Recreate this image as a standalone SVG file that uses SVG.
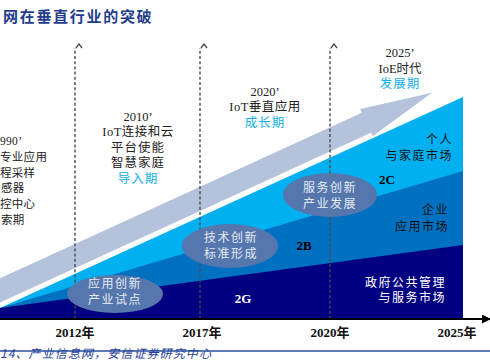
<svg xmlns="http://www.w3.org/2000/svg" width="490" height="364" viewBox="0 0 490 364">
<defs>
<style>
.t{font-family:"Liberation Serif","Noto Sans CJK SC",serif;font-size:12.5px;fill:#222;text-anchor:middle}
.c{fill:#10aeea}
.e9{font-family:"Liberation Serif","Noto Sans CJK SC",serif;font-size:11.5px;fill:#222;letter-spacing:0.3px}
.lab{font-family:"Liberation Serif","Noto Sans CJK SC",serif;font-size:12px;letter-spacing:1.5px;text-anchor:end}
.ell{fill:#5677ad}
.et{font-family:"Noto Sans CJK SC",sans-serif;font-size:12px;letter-spacing:1.5px;fill:#e4eaf4;text-anchor:middle}
.yr{font-family:"Liberation Serif","Noto Sans CJK SC",serif;font-size:13px;font-weight:bold;fill:#111;text-anchor:middle}
.g{font-family:"Liberation Serif",serif;font-size:13px;font-weight:bold;text-anchor:middle}
.dash{stroke:#4a4a4a;stroke-width:1.4;stroke-dasharray:3 2.2;fill:none}
</style>
<marker id="chev" viewBox="0 0 10 10" refX="5" refY="1" markerWidth="10" markerHeight="10" markerUnits="userSpaceOnUse" orient="auto">
<path d="M2,5 L5,1 L8,5" fill="none" stroke="#4a4a4a" stroke-width="1.3" transform="rotate(90 5 5)"/>
</marker>
<marker id="ax" viewBox="0 0 10 10" refX="9" refY="5" markerWidth="9" markerHeight="9" markerUnits="userSpaceOnUse" orient="auto">
<path d="M0,0 L10,5 L0,10 Z" fill="#000"/>
</marker>
</defs>
<rect width="490" height="364" fill="#fff"/>
<text x="3" y="22" font-family="Noto Sans CJK SC,sans-serif" font-size="15" font-weight="bold" letter-spacing="1.7" fill="#1f3d8c">网在垂直行业的突破</text>
<g id="trend-arrow">
<polygon points="0,-11 414,-11 414,-15 486,0 414,15 414,11 0,11" fill="#b5c2db" transform="translate(-10,295) rotate(-24.6)"/>
</g>
<g id="areas">
<polygon id="area-2C" points="0,308 463,97 463,319 0,319" fill="#00b0f0"/>
<polygon id="area-2B" points="0,308 463,171 463,319 0,319" fill="#0070c0"/>
<polygon id="area-2G" points="0,308 463,245 463,319 0,319" fill="#020080"/>
</g>
<g id="connectors">
<line class="dash" x1="75" y1="319" x2="75" y2="48" marker-end="url(#chev)"/>
<line class="dash" x1="200" y1="319" x2="200" y2="48" marker-end="url(#chev)"/>
<line class="dash" x1="330" y1="319" x2="330" y2="48" marker-end="url(#chev)"/>
<line x1="0" y1="319" x2="490" y2="319" stroke="#000" stroke-width="2" marker-end="url(#ax)"/>
</g>
<g id="era-1990">
<text class="e9" x="0" y="145" font-size="12.5">990’</text>
<text class="e9" x="0" y="161">专业应用</text>
<text class="e9" x="0" y="177">程采样</text>
<text class="e9" x="1" y="192">感器</text>
<text class="e9" x="0" y="208">控中心</text>
<text class="e9 c" x="1" y="224">索期</text>
</g>
<g id="era-2010">
<text class="t" x="138" y="121">2010’</text>
<text class="t" x="138" y="136" letter-spacing="0.5">IoT连接和云</text>
<text class="t" x="138" y="152" letter-spacing="1">平台使能</text>
<text class="t" x="138" y="167" letter-spacing="1">智慧家庭</text>
<text class="t c" x="138" y="183" letter-spacing="1">导入期</text>
</g>
<g id="era-2020">
<text class="t" x="265" y="96">2020’</text>
<text class="t" x="265" y="111" letter-spacing="0.5">IoT垂直应用</text>
<text class="t c" x="265" y="127" letter-spacing="1">成长期</text>
</g>
<g id="era-2025">
<text class="t" x="400" y="57">2025’</text>
<text class="t" x="400" y="73">IoE时代</text>
<text class="t c" x="400" y="88" letter-spacing="1">发展期</text>
</g>
<g id="market-2C">
<text class="lab" x="453" y="144" fill="#111">个人</text>
<text class="lab" x="453" y="160" fill="#111">与家庭市场</text>
<text class="g" x="387" y="184" fill="#000">2C</text>
</g>
<g id="market-2B">
<text class="lab" x="449" y="214" fill="#111">企业</text>
<text class="lab" x="449" y="231" fill="#111">应用市场</text>
<text class="g" x="304" y="250" fill="#000">2B</text>
</g>
<g id="market-2G">
<text class="lab" x="446" y="287" fill="#fff">政府公共管理</text>
<text class="lab" x="446" y="302" fill="#fff">与服务市场</text>
<text class="g" x="243" y="303" fill="#fff">2G</text>
</g>
<g id="stage-pilot">
<ellipse class="ell" cx="115" cy="294" rx="48" ry="19"/>
<text class="et" x="115" y="288">应用创新</text>
<text class="et" x="115" y="304">产业试点</text>
</g>
<g id="stage-standard">
<ellipse class="ell" cx="230" cy="246" rx="48" ry="22"/>
<text class="et" x="231" y="242">技术创新</text>
<text class="et" x="231" y="258">标准形成</text>
</g>
<g id="stage-service">
<ellipse class="ell" cx="330" cy="195" rx="47" ry="22"/>
<text class="et" x="330" y="192">服务创新</text>
<text class="et" x="330" y="208">产业发展</text>
</g>
<g id="years">
<text class="yr" x="75" y="337">2012年</text>
<text class="yr" x="202" y="337">2017年</text>
<text class="yr" x="330" y="337">2020年</text>
<text class="yr" x="457" y="337">2025年</text>
</g>
<line x1="0" y1="351" x2="490" y2="351" stroke="#2a4f9e" stroke-width="1.5"/>
<text x="0" y="358" font-family="Noto Sans CJK SC,sans-serif" font-size="12" font-style="italic" letter-spacing="1.1" fill="#1f3d99">14、产业信息网，安信证券研究中心</text>
</svg>
